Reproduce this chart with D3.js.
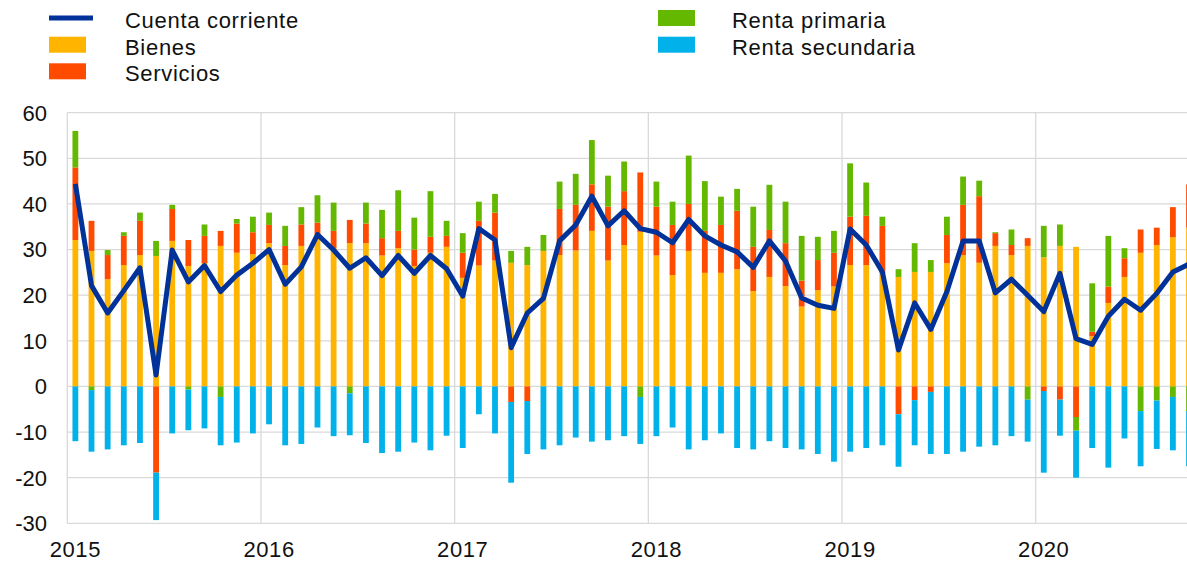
<!DOCTYPE html>
<html>
<head>
<meta charset="utf-8">
<script src="https://cdn.jsdelivr.net/npm/d3@7/dist/d3.min.js"></script>
<style>
  body { margin: 0; background: #fff; }
  svg { display: block; font-family: "Liberation Sans", Arial, sans-serif; }
</style>
</head>
<body>
<svg id="chart" width="1187" height="562"></svg>
<script>
// ---------------- DATA (monthly, Jan 2015 – Oct 2020) ----------------
const years = ["2015", "2016", "2017", "2018", "2019", "2020"];
const monthsInLastYear = 10;
const months = [];
years.forEach((yr, yi) => {
  const n = yi === years.length - 1 ? monthsInLastYear : 12;
  for (let m = 1; m <= n; m++) months.push(yr + "-" + String(m).padStart(2, "0"));
});

const bienes = [
  32.1, 29.7, 23.5, 26.6, 28.8, 28.6, 31.9, 26.4, 27.0, 30.8, 29.3, 29.0,
  31.4, 26.6, 30.8, 33.4, 30.3, 31.4, 31.4, 28.7, 30.3, 26.4, 29.3, 30.6,
  23.8, 26.5, 27.6, 27.1, 26.6, 29.7, 28.8, 29.8, 34.1, 27.6, 31.0, 33.9,
  28.7, 24.4, 29.7, 24.9, 24.9, 25.7, 20.9, 24.0, 22.0, 17.5, 21.1, 21.9,
  26.6, 26.6, 24.8, 24.0, 25.1, 25.1, 27.0, 28.8, 27.1, 30.8, 28.8, 30.8,
  28.3, 30.8, 30.6, 11.0, 18.3, 24.0, 29.3, 31.0, 32.7, 34.8
];
const servicios = [
  15.9, 6.6, 5.3, 6.4, 7.5, -18.9, 7.0, 5.7, 6.0, 3.3, 6.4, 4.8,
  4.0, 4.2, 4.7, 2.5, 3.8, 5.1, 4.3, 3.8, 3.8, 3.6, 3.5, 2.4,
  5.5, 9.8, 10.5, -3.4, -3.2, 0.0, 10.1, 10.0, 10.2, 11.8, 11.8, 13.0,
  10.7, 11.0, 10.3, 9.2, 10.5, 12.8, 9.7, 10.3, 9.4, 5.7, 6.6, 7.4,
  10.6, 10.8, 10.4, -6.1, -3.0, -1.2, 6.2, 11.0, 14.6, 2.8, 2.2, 1.7,
  -1.0, -2.9, -6.7, 1.0, 3.6, 4.1, 5.1, 3.8, 6.6, 9.5
];
const rentaPrimaria = [
  8.0, -0.8, 1.1, 0.8, 1.8, 3.3, 0.9, -0.7, 2.5, -2.3, 1.0, 3.4,
  2.7, 4.4, 3.8, 6.0, 6.2, -1.5, 4.6, 6.2, 8.9, 7.0, 10.0, 3.3,
  4.3, 4.2, 4.1, 2.6, 4.0, 3.5, 6.0, 6.8, 9.7, 6.8, 6.5, -2.3,
  5.5, 5.1, 10.6, 10.9, 6.2, 4.8, 8.8, 9.9, 9.1, 9.8, 5.1, 4.8,
  11.7, 7.3, 2.0, 1.7, 6.3, 2.6, 4.0, 6.2, 3.4, 0.2, 3.4, -2.9,
  6.9, 4.7, -3.0, 10.6, 11.1, 2.2, -5.4, -3.1, -2.3, -5.4
];
const rentaSecundaria = [
  -12.0, -13.5, -13.8, -12.9, -12.4, -10.4, -10.3, -8.9, -9.2, -10.6, -12.3, -10.3,
  -8.3, -12.9, -12.6, -9.0, -10.9, -9.2, -12.4, -14.6, -14.3, -12.3, -14.0, -10.8,
  -13.5, -6.1, -10.3, -17.7, -11.6, -13.8, -12.9, -11.2, -12.1, -11.8, -10.9, -10.3,
  -10.9, -9.0, -13.8, -11.8, -10.3, -13.5, -13.8, -12.0, -13.5, -13.8, -14.8, -16.5,
  -14.3, -13.5, -12.9, -11.5, -9.9, -13.6, -14.8, -14.3, -13.2, -12.9, -10.9, -9.2,
  -17.9, -7.9, -10.3, -13.5, -17.8, -11.4, -12.1, -10.6, -11.7, -12.1
];
const cuentaCorriente = [
  44.4, 22.1, 16.1, 21.0, 26.0, 2.5, 29.9, 22.9, 26.5, 20.8, 24.4, 27.0,
  30.0, 22.4, 26.2, 33.3, 29.9, 25.9, 28.2, 24.3, 28.7, 24.8, 28.7, 25.8,
  19.8, 34.6, 32.1, 8.5, 16.1, 19.3, 31.9, 35.4, 41.7, 35.2, 38.5, 34.6,
  33.8, 31.5, 36.6, 33.0, 31.0, 29.5, 26.1, 31.9, 27.5, 19.4, 17.8, 17.1,
  34.5, 31.0, 25.1, 8.0, 18.3, 12.5, 20.8, 31.9, 31.9, 20.5, 23.5, 20.0,
  16.4, 24.8, 10.5, 9.2, 15.4, 19.1, 16.7, 20.4, 25.1, 26.8
];

const yTicks = [-30, -20, -10, 0, 10, 20, 30, 40, 50, 60];
const seriesKeys = ["Bienes", "Servicios", "Renta primaria", "Renta secundaria"];
const seriesColors = ["#FFB400", "#FF4B00", "#65B800", "#00B1EA"];
const lineName = "Cuenta corriente";
const lineColor = "#003299";

// ---------------- CHART ----------------
const svg = d3.select("#chart");
const plotLeft = 67.3, monthStep = 16.14, plotTop = 112.7, plotBottom = 523.3;

const x = d3.scaleBand()
  .domain(months)
  .range([plotLeft, plotLeft + monthStep * months.length])
  .paddingInner(0.64)
  .paddingOuter(0.32);

const y = d3.scaleLinear().domain([-30, 60]).range([plotBottom, plotTop]);

const rows = months.map((m, i) => ({
  month: m,
  "Bienes": bienes[i],
  "Servicios": servicios[i],
  "Renta primaria": rentaPrimaria[i],
  "Renta secundaria": rentaSecundaria[i]
}));

const stacked = d3.stack().keys(seriesKeys).offset(d3.stackOffsetDiverging)(rows);
const color = d3.scaleOrdinal().domain(seriesKeys).range(seriesColors);

const gridColor = "#d9d9d9";

// horizontal gridlines
svg.append("g").selectAll("line").data(yTicks).join("line")
  .attr("x1", plotLeft).attr("x2", 1187)
  .attr("y1", d => y(d)).attr("y2", d => y(d))
  .attr("stroke", gridColor).attr("stroke-width", 1.3);

// vertical year gridlines
const halfGap = x.step() * x.paddingInner() / 2;
svg.append("g").selectAll("line").data(years).join("line")
  .attr("x1", d => x(d + "-01") - halfGap).attr("x2", d => x(d + "-01") - halfGap)
  .attr("y1", plotTop).attr("y2", plotBottom)
  .attr("stroke", gridColor).attr("stroke-width", 1.3);

// bars
svg.append("g").selectAll("g").data(stacked).join("g")
  .attr("fill", d => color(d.key))
  .selectAll("rect").data(d => d).join("rect")
  .attr("x", d => x(d.data.month))
  .attr("width", x.bandwidth())
  .attr("y", d => y(Math.max(d[0], d[1])))
  .attr("height", d => Math.abs(y(d[0]) - y(d[1])));

// line
const line = d3.line()
  .x((d, i) => x(months[i]) + x.bandwidth() / 2)
  .y(d => y(d));
svg.append("path").datum(cuentaCorriente)
  .attr("d", line)
  .attr("fill", "none")
  .attr("stroke", lineColor)
  .attr("stroke-width", 5)
  .attr("stroke-linejoin", "round");

// y axis labels
svg.append("g").selectAll("text").data(yTicks).join("text")
  .attr("x", 47).attr("y", d => y(d)).attr("dy", "0.36em")
  .attr("text-anchor", "end")
  .attr("font-size", 22).attr("fill", "#111")
  .text(d => d);

// x axis year labels
svg.append("g").selectAll("text").data(years).join("text")
  .attr("x", d => x(d + "-01") + x.bandwidth() / 2)
  .attr("y", 557)
  .attr("text-anchor", "middle")
  .attr("font-size", 22).attr("letter-spacing", 0.6).attr("fill", "#111")
  .text(d => d);

// legend
const legendItems = [
  { name: lineName, color: lineColor, type: "line", col: 0, row: 0 },
  { name: seriesKeys[0], color: seriesColors[0], type: "box", col: 0, row: 1 },
  { name: seriesKeys[1], color: seriesColors[1], type: "box", col: 0, row: 2 },
  { name: seriesKeys[2], color: seriesColors[2], type: "box", col: 1, row: 0 },
  { name: seriesKeys[3], color: seriesColors[3], type: "box", col: 1, row: 1 }
];
const colX = [49, 658], textX = [125, 732], rowY = [18, 44.7, 71.3];
const lg = svg.append("g");
legendItems.forEach(it => {
  const cx = colX[it.col], cy = rowY[it.row];
  if (it.type === "line") {
    lg.append("rect").attr("x", cx).attr("y", cy - 2.5).attr("width", 44).attr("height", 5).attr("fill", it.color);
  } else {
    lg.append("rect").attr("x", cx).attr("y", cy - 8).attr("width", 37).attr("height", 16).attr("fill", it.color);
  }
  lg.append("text").attr("x", textX[it.col]).attr("y", cy + 10)
    .attr("font-size", 22).attr("letter-spacing", 0.7).attr("fill", "#111").text(it.name);
});
</script>
</body>
</html>
